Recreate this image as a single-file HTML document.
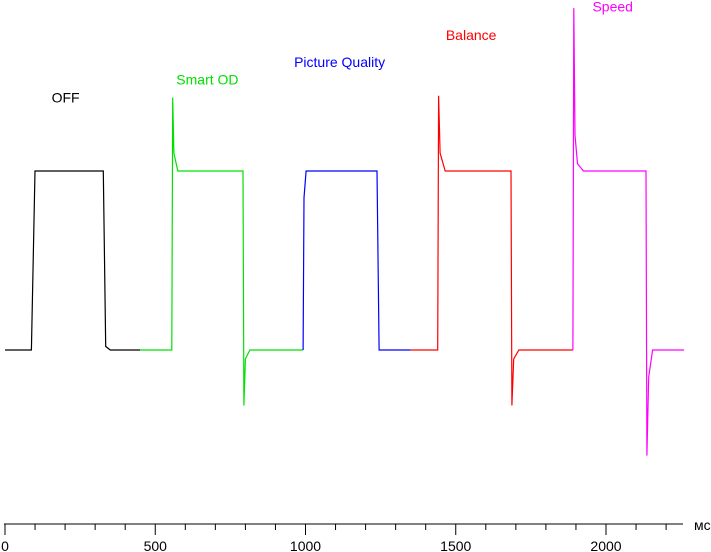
<!DOCTYPE html>
<html><head><meta charset="utf-8"><style>
html,body{margin:0;padding:0;background:#fff;}
svg{display:block;font-family:"Liberation Sans",Arial,sans-serif;}
</style></head><body>
<svg id="chart" width="711" height="552" viewBox="0 0 711 552" xmlns="http://www.w3.org/2000/svg"></svg>
<script>
const xTicksMajor = [0, 500, 1000, 1500, 2000];
const xTicksMinor = [100,200,300,400,600,700,800,900,1100,1200,1300,1400,1600,1700,1800,1900,2100,2200];
const seriesNames = ["OFF", "Smart OD", "Picture Quality", "Balance", "Speed"];
const seriesColors = ["#000000", "#00e000", "#0000ff", "#ff0000", "#ff00ff"];
const offTimes = [0, 88, 100, 327, 335, 350, 450];
const offVals = [0, 0, 100, 100, 2, 0, 0];
const smartTimes = [450, 555, 558, 562, 575, 792, 795, 800, 815, 992];
const smartVals = [0, 0, 141, 110, 100, 100, -31, -5, 0, 0];
const pqTimes = [992, 995, 1002, 1238, 1245, 1350];
const pqVals = [0, 85, 100, 100, 0, 0];
const balTimes = [1350, 1440, 1443, 1448, 1465, 1684, 1687, 1693, 1710, 1890];
const balVals = [0, 0, 142, 110, 100, 100, -31, -5, 0, 0];
const spdTimes = [1890, 1893, 1897, 1905, 1925, 2133, 2136, 2142, 2155, 2260];
const spdVals = [0, 191, 120, 104, 100, 100, -59, -15, 0, 0];
const labelTimes = [155, 570, 962, 1467, 1955];
const labelVals = [138.2, 148.2, 158.2, 173.2, 189.2];

const svg = document.getElementById('chart');
const NS = "http://www.w3.org/2000/svg";
const xs = ms => 5 + ms * 0.3005;
const ys = v => 350 - v * 1.79;
const axisY = 524;

function mk(tag, attrs) {
  const e = document.createElementNS(NS, tag);
  for (const k in attrs) e.setAttribute(k, attrs[k]);
  svg.appendChild(e);
  return e;
}

let ax = mk('line', {x1: 4, y1: axisY, x2: 683, y2: axisY, stroke: '#000', 'stroke-width': 1});



xTicksMajor.forEach(t => {
  const l = mk('line', {x1: xs(t), y1: axisY, x2: xs(t), y2: axisY + 11, stroke: '#000'});
  
  
  const tx = mk('text', {x: xs(t), y: 551, 'text-anchor': 'middle', 'font-size': 14, fill: '#000'});
  tx.textContent = t;
  
  
});
xTicksMinor.forEach(t => {
  const l = mk('line', {x1: xs(t), y1: axisY, x2: xs(t), y2: axisY + 6, stroke: '#000'});
  
  
});
const unit = mk('text', {x: 694, y: 530, 'font-size': 14, fill: '#000'});
unit.textContent = 'мс';



const allT = [offTimes, smartTimes, pqTimes, balTimes, spdTimes];
const allV = [offVals, smartVals, pqVals, balVals, spdVals];
allT.forEach((ts, i) => {
  const pts = ts.map((t, j) => xs(t).toFixed(1) + ',' + ys(allV[i][j]).toFixed(1)).join(' ');
  const p = mk('polyline', {points: pts, fill: 'none', stroke: seriesColors[i], 'stroke-width': 1.2});
  
  
  const lb = mk('text', {x: xs(labelTimes[i]), y: ys(labelVals[i]), 'font-size': 14, fill: seriesColors[i]});
  lb.textContent = seriesNames[i];
  
  
});
</script>
</body></html>
